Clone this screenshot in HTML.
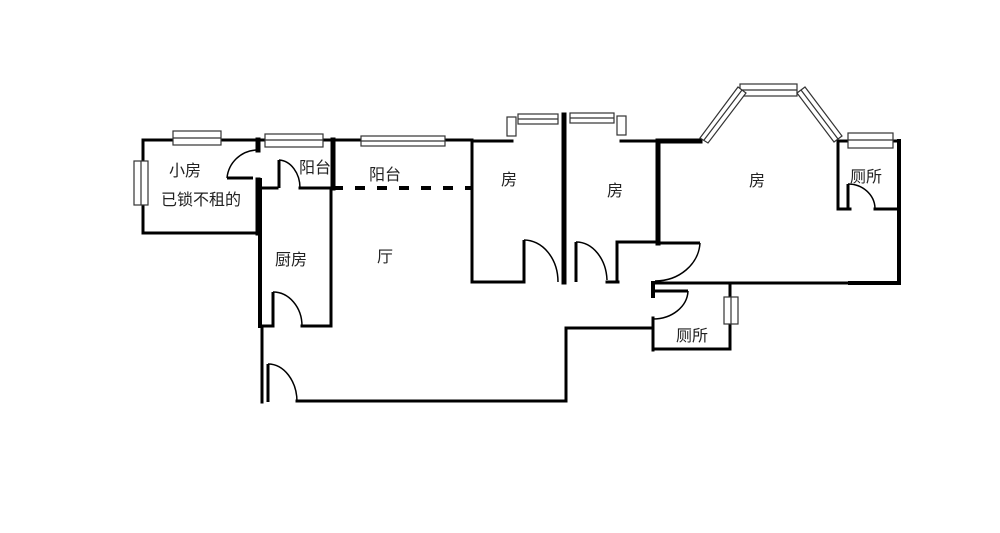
<!DOCTYPE html>
<html><head><meta charset="utf-8"><style>
html,body{margin:0;padding:0;background:#fff;width:1000px;height:533px;overflow:hidden}
text{font-family:"Liberation Sans","Noto Sans CJK SC",sans-serif;font-size:16px;fill:#222}
</style></head><body>
<svg width="1000" height="533" viewBox="0 0 1000 533" xmlns="http://www.w3.org/2000/svg">
<g stroke="#000" fill="none" stroke-width="3" stroke-linecap="square">
<polyline points="143,140 258,140"/>
<polyline points="143,140 143,233 258,233"/>
<line x1="258" y1="140" x2="258" y2="150" stroke-width="5"/>
<line x1="258" y1="180" x2="258" y2="233" stroke-width="5"/>
<line x1="258" y1="140" x2="472" y2="140"/>
<line x1="333" y1="140" x2="333" y2="188" stroke-width="5"/>
<line x1="260" y1="188" x2="277" y2="188"/>
<line x1="300" y1="188" x2="333" y2="188"/>
<line x1="260" y1="180" x2="260" y2="326" stroke-width="4"/>
<line x1="331" y1="188" x2="331" y2="326"/>
<line x1="260" y1="326" x2="273" y2="326"/>
<line x1="302" y1="326" x2="331" y2="326"/>
<line x1="262" y1="326" x2="262" y2="402"/>
<line x1="297" y1="401" x2="566" y2="401"/>
<line x1="566" y1="328" x2="566" y2="401"/>
<line x1="566" y1="328" x2="653" y2="328"/>
<line x1="472" y1="140" x2="472" y2="282"/>
<line x1="472" y1="282" x2="524" y2="282"/>
<line x1="472" y1="141" x2="512" y2="141"/>
<line x1="564" y1="115" x2="564" y2="282" stroke-width="5"/>
<line x1="621" y1="141" x2="700" y2="141"/>
<line x1="658" y1="141" x2="658" y2="243" stroke-width="5"/>
<line x1="658" y1="141" x2="700" y2="141" stroke-width="5"/>
<line x1="607" y1="282" x2="618" y2="282"/>
<line x1="617" y1="242" x2="617" y2="282"/>
<line x1="617" y1="242" x2="658" y2="242"/>
<line x1="838" y1="141" x2="899" y2="141"/>
<line x1="838" y1="141" x2="838" y2="209"/>
<line x1="838" y1="209" x2="850" y2="209"/>
<line x1="875" y1="209" x2="899" y2="209"/>
<line x1="899" y1="141" x2="899" y2="283" stroke-width="4"/>
<line x1="655" y1="283" x2="899" y2="283"/>
<line x1="850" y1="283" x2="899" y2="283" stroke-width="4"/>
<line x1="653" y1="283" x2="653" y2="296" stroke-width="4"/>
<line x1="653" y1="318" x2="653" y2="350"/>
<line x1="653" y1="349" x2="730" y2="349"/>
<line x1="730" y1="283" x2="730" y2="349"/>
</g>
<line x1="333" y1="188" x2="472" y2="188" stroke="#000" stroke-width="4" stroke-dasharray="10,12"/>
<g stroke="#000" fill="none" stroke-width="1.5">
<line x1="227" y1="178" x2="253" y2="178" stroke-width="3"/><path d="M227,178 A31,31 0 0 1 256,150"/>
<line x1="279" y1="160" x2="279" y2="188" stroke-width="3"/><path d="M279,160 A22,28 0 0 1 300,188"/>
<line x1="273" y1="292" x2="273" y2="326" stroke-width="3"/><path d="M273,292 A29,34 0 0 1 302,326"/>
<line x1="268" y1="364" x2="268" y2="402" stroke-width="3"/><path d="M268,364 A29,38 0 0 1 297,402"/>
<line x1="524" y1="240" x2="524" y2="282" stroke-width="3"/><path d="M524,240 A34,42 0 0 1 558,282"/>
<line x1="576" y1="242" x2="576" y2="282" stroke-width="3"/><path d="M576,242 A31,40 0 0 1 607,280"/>
<line x1="848" y1="184" x2="848" y2="209" stroke-width="3"/><path d="M848,184 A27,25 0 0 1 875,208"/>
<line x1="658" y1="243" x2="700" y2="243" stroke-width="3"/><path d="M700,243 A45,40 0 0 1 655,281"/>
<line x1="653" y1="291" x2="688" y2="291" stroke-width="3"/><path d="M688,291 A35,29 0 0 1 653,319"/>
</g>
<g stroke="#333" fill="#fff" stroke-width="1.2">
<rect x="173" y="131" width="48" height="14"/><line x1="173" y1="138" x2="221" y2="138"/>
<rect x="134" y="161" width="14" height="44"/><line x1="141" y1="161" x2="141" y2="205"/>
<rect x="265" y="134" width="58" height="13"/><line x1="265" y1="140" x2="323" y2="140"/>
<rect x="361" y="136" width="84" height="10"/><line x1="361" y1="141" x2="445" y2="141"/>
<rect x="518" y="114" width="40" height="10"/><line x1="518" y1="119" x2="558" y2="119"/>
<rect x="507" y="117" width="9" height="19"/>
<rect x="570" y="113" width="44" height="10"/><line x1="570" y1="118" x2="614" y2="118"/>
<rect x="617" y="116" width="9" height="19"/>
<rect x="740" y="84" width="57" height="12"/><line x1="740" y1="90" x2="797" y2="90"/>
<polygon points="700,138 738,87 746,93 708,143"/><line x1="704" y1="140" x2="742" y2="90"/>
<polygon points="797,93 805,87 842,136 834,142"/><line x1="801" y1="90" x2="838" y2="139"/>
<rect x="848" y="133" width="45" height="15"/><line x1="848" y1="140" x2="893" y2="140"/>
<rect x="724" y="297" width="14" height="27"/><line x1="731" y1="297" x2="731" y2="324"/>
</g>
<g>
<text x="169" y="176">小房</text>
<text x="161" y="205">已锁不租的</text>
<text x="299" y="173">阳台</text>
<text x="369" y="180">阳台</text>
<text x="275" y="265">厨房</text>
<text x="377" y="262">厅</text>
<text x="501" y="185">房</text>
<text x="607" y="196">房</text>
<text x="749" y="186">房</text>
<text x="850" y="182">厕所</text>
<text x="676" y="341">厕所</text>
</g>
</svg>
</body></html>
